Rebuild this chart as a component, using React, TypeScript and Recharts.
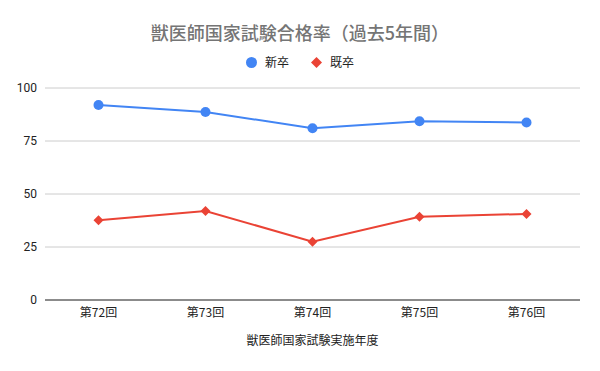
import React from "react";
import { LineChart, Line, XAxis, YAxis, CartesianGrid } from "recharts";

const rounds = ["第72回", "第73回", "第74回", "第75回", "第76回"];
const newGrads = [92.0, 88.7, 81.0, 84.3, 83.7];
const pastGrads = [37.6, 42.0, 27.5, 39.3, 40.6];
const yTicks = [0, 25, 50, 75, 100];

const BLUE = "#4285f4";
const RED = "#ea4335";
const FONT = "'Noto Sans CJK JP', Roboto, sans-serif";

const data = rounds.map((r, i) => ({ round: r, newGrad: newGrads[i], pastGrad: pastGrads[i] }));

function Diamond(props: any) {
  const { cx, cy } = props;
  if (cx == null || cy == null) return null;
  const s = 5;
  return (
    <polygon
      points={`${cx},${cy - s} ${cx + s},${cy} ${cx},${cy + s} ${cx - s},${cy}`}
      fill={RED}
    />
  );
}

function LegendBox() {
  return (
    <div
      style={{
        position: "absolute",
        top: 53,
        left: 0,
        width: 600,
        display: "flex",
        justifyContent: "center",
        gap: 22,
        fontFamily: FONT,
        fontSize: 12,
        color: "#222",
        lineHeight: "18px",
      }}
    >
      <span style={{ display: "flex", alignItems: "center", gap: 8 }}>
        <svg width={11} height={11}>
          <circle cx={5.5} cy={5.5} r={5.5} fill={BLUE} />
        </svg>
        新卒
      </span>
      <span style={{ display: "flex", alignItems: "center", gap: 8 }}>
        <svg width={11} height={11}>
          <polygon points="5.5,0 11,5.5 5.5,11 0,5.5" fill={RED} />
        </svg>
        既卒
      </span>
    </div>
  );
}

export default function App() {
  return (
    <div style={{ position: "absolute", left: 0, top: 0, width: 600, height: 371, background: "#fff" }}>
      <LineChart width={600} height={371} data={data} margin={{ top: 88, right: 20, bottom: 41, left: 0 }}>
        <CartesianGrid vertical={false} stroke="#cccccc" />
        <XAxis
          dataKey="round"
          padding={{ left: 53.5, right: 53.5 }}
          tickLine={false}
          axisLine={{ stroke: "#333333" }}
          tick={{ fill: "#222", fontSize: 12, fontFamily: FONT }}
          height={30}
          label={{ value: "獣医師国家試験実施年度", position: "bottom", offset: 6, fill: "#222", fontSize: 12, fontFamily: FONT }}
        />
        <YAxis
          width={45}
          domain={[0, 100]}
          ticks={yTicks}
          tickLine={false}
          axisLine={false}
          tick={{ fill: "#222", fontSize: 12, fontFamily: "Roboto, sans-serif" }}
        />
        <Line
          dataKey="newGrad"
          name="新卒"
          stroke={BLUE}
          strokeWidth={2}
          dot={{ r: 5, fill: BLUE, stroke: BLUE, strokeWidth: 0 }}
          isAnimationActive={false}
        />
        <Line
          dataKey="pastGrad"
          name="既卒"
          stroke={RED}
          strokeWidth={2}
          dot={<Diamond />}
          isAnimationActive={false}
        />
      </LineChart>
      <div
        style={{
          position: "absolute",
          top: 19,
          left: 0,
          width: 600,
          textAlign: "center",
          fontFamily: FONT,
          fontSize: 18,
          fontWeight: 500,
          color: "#757575",
        }}
      >
        獣医師国家試験合格率（過去5年間）
      </div>
      <LegendBox />
    </div>
  );
}
